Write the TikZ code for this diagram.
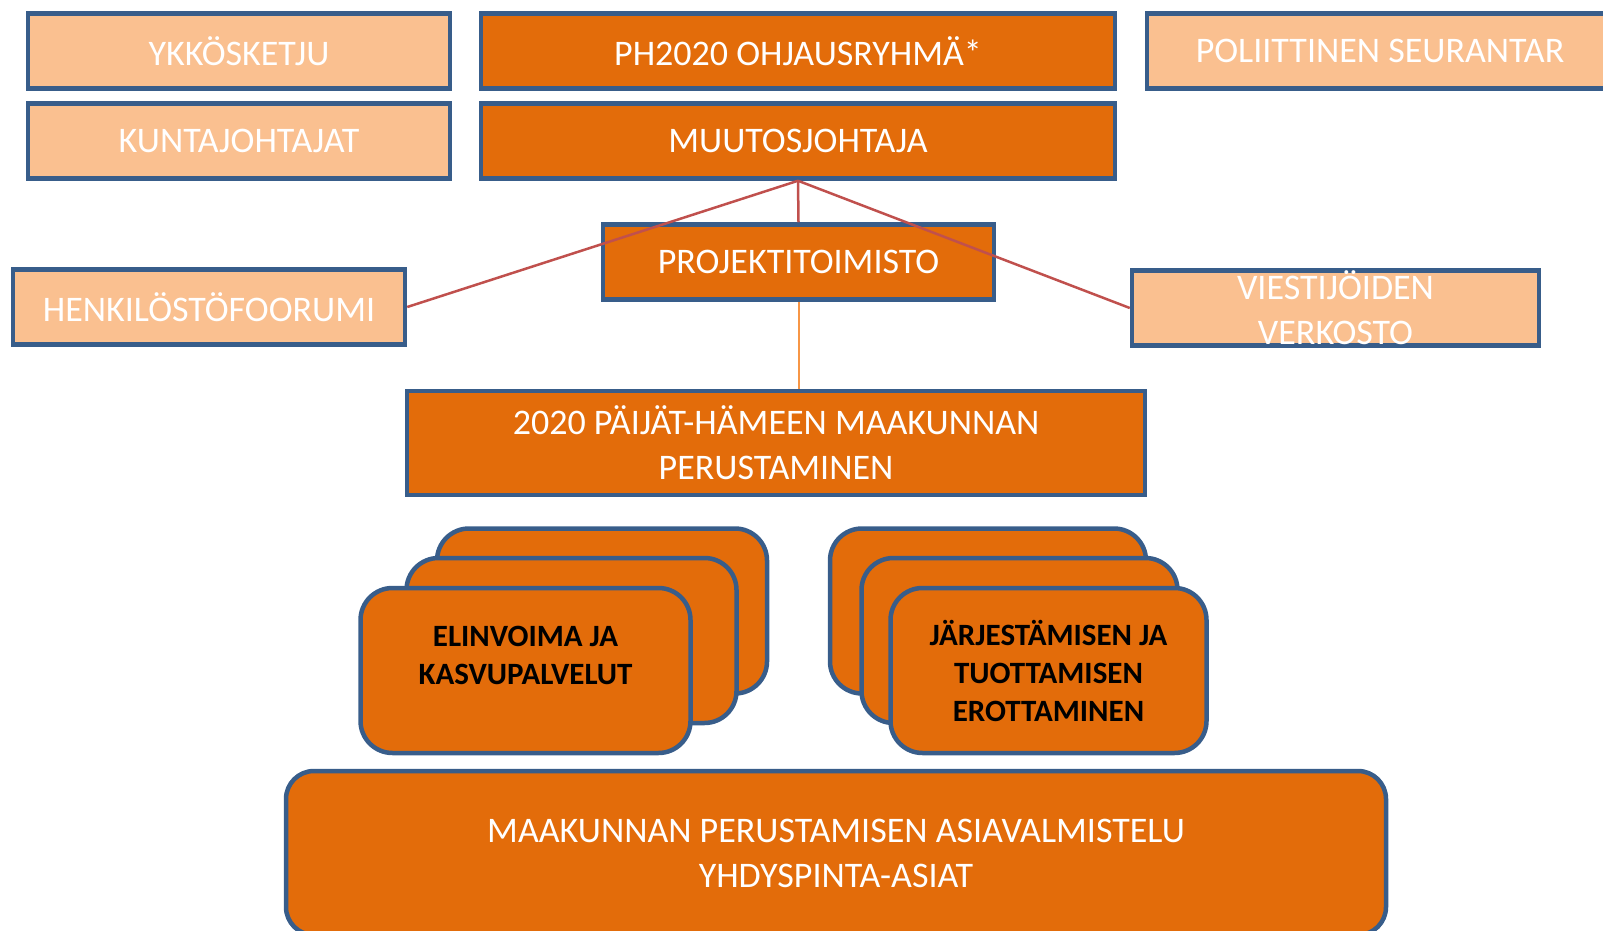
\documentclass[tikz,border=0pt]{standalone}
\usepackage{fontspec}
\setmainfont{Carlito}
\definecolor{PHOrange}{HTML}{E36C0A}
\definecolor{PHPeach}{HTML}{FAC090}
\definecolor{PHBorder}{HTML}{385D8A}
\definecolor{PHRed}{HTML}{C0504D}
\definecolor{PHFeed}{HTML}{F79646}

\begin{document}
\begin{tikzpicture}[
  x=1pt, y=-1pt,
  darkbox/.style={rectangle,draw=PHBorder,fill=PHOrange,line width=4.5pt,text=white,
    font=\fontsize{36}{45}\selectfont,align=center,minimum height=75pt,inner sep=2pt},
  lightbox/.style={darkbox,fill=PHPeach},
  card/.style={rectangle,rounded corners=32pt,draw=PHBorder,fill=PHOrange,line width=4.5pt,
    minimum width=330pt,minimum height=165pt,align=center,
    font=\fontsize{31}{38}\selectfont\bfseries},
  cardtext/.style={align=center,font=\fontsize{31}{38}\selectfont\bfseries},
  link/.style={PHRed,line width=2.5pt},
  feed/.style={PHFeed,line width=2pt}
]
  \path[use as bounding box] (0,0) rectangle (1603,931);
  \clip (0,0) rectangle (1603,931);

  \node[lightbox, minimum width=422pt] (ykkos) at (239,51) {YKKÖSKETJU};
  \node[darkbox, minimum width=634pt] (ohjaus) at (798,51) {PH2020 OHJAUSRYHMÄ*};
  \node[lightbox, minimum width=466pt] (poliit) at (1380,51) {POLIITTINEN SEURANTAR};
  \node[lightbox, minimum width=422pt] (kunta) at (239,141) {KUNTAJOHTAJAT};
  \node[darkbox, minimum width=634pt] (muutos) at (798,141) {MUUTOSJOHTAJA};
  \node[darkbox, minimum width=391pt] (projekti) at (798.5,262) {PROJEKTITOIMISTO};
  \node[lightbox, minimum width=392pt] (henk) at (209,307) {HENKILÖSTÖFOORUMI};
  \node[lightbox, minimum width=407pt, label={[text=white,align=center,
    font=\fontsize{36}{45}\selectfont]center:VIESTIJÖIDEN\\VERKOSTO}] (viesti) at (1335.5,308) {};
  \node[darkbox, minimum width=738pt, minimum height=104pt] (paijat) at (776,443)
    {2020 PÄIJÄT-HÄMEEN MAAKUNNAN\\PERUSTAMINEN};

  % cards, back to front
  \node[card] (elinC) at (602,611) {};
  \node[card] (elinB) at (571.5,640.5) {};
  \node[card, label={[cardtext,yshift=15pt]center:ELINVOIMA JA\\KASVUPALVELUT}] (elin)
    at (525.5,670.5) {};
  \node[card, minimum width=316pt] (jarjC) at (988,611) {};
  \node[card, minimum width=316pt] (jarjB) at (1019.5,640.5) {};
  \node[card, minimum width=316pt] (jarj) at (1048.5,670.5)
    {JÄRJESTÄMISEN JA\\TUOTTAMISEN\\EROTTAMINEN};

  \node[darkbox, rounded corners=28pt, minimum width=1100pt, minimum height=164pt] (asia)
    at (836,853) {MAAKUNNAN PERUSTAMISEN ASIAVALMISTELU\\YHDYSPINTA-ASIAT};

  \draw[link] (muutos.south) -- (henk.east);
  \draw[link] (muutos.south) -- (viesti.west);
  \draw[link] (muutos.south) -- (projekti.north);
  \draw[feed] (projekti.south) -- (projekti.south |- paijat.north);
\end{tikzpicture}
\end{document}
